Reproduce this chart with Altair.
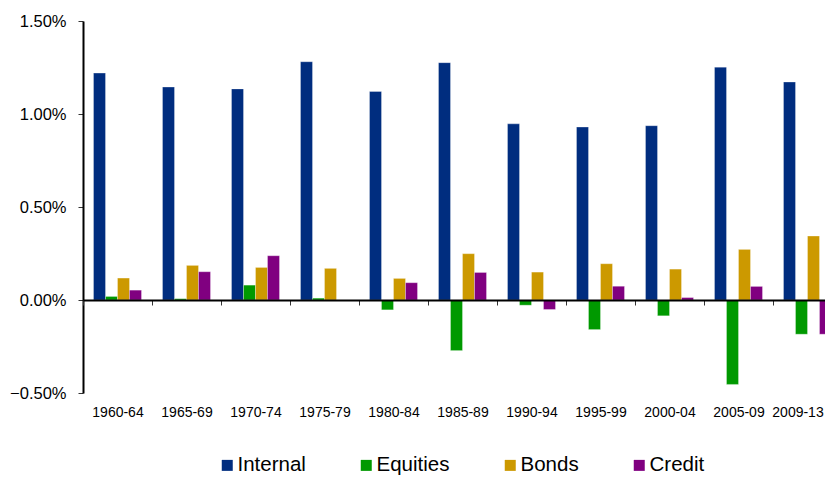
import altair as alt
import pandas as pd

periods = ["1960-64", "1965-69", "1970-74", "1975-79", "1980-84", "1985-89",
           "1990-94", "1995-99", "2000-04", "2005-09", "2009-13"]
series = ["Internal", "Equities", "Bonds", "Credit"]
colors = ["#002D7F", "#009900", "#CC9900", "#800080"]

# values in percent
internal = [1.220, 1.145, 1.135, 1.281, 1.121, 1.276, 0.947, 0.930, 0.937, 1.252, 1.172]
equities = [0.019, 0.007, 0.080, 0.010, -0.053, -0.272, -0.028, -0.159, -0.085, -0.454, -0.184]
bonds = [0.118, 0.186, 0.175, 0.170, 0.116, 0.249, 0.150, 0.195, 0.166, 0.272, 0.344]
credit = [0.053, 0.152, 0.238, 0.0, 0.093, 0.148, -0.051, 0.074, 0.013, 0.073, -0.184]

y_ticks = [-0.005, 0.0, 0.005, 0.01, 0.015]

rows = []
for i, p in enumerate(periods):
    for s, vals in zip(series, [internal, equities, bonds, credit]):
        rows.append({"period": p, "series": s, "value": vals[i] / 100})
df = pd.DataFrame(rows)

W = 759
H = 372
ymin, ymax = -0.005, 0.015
zero_offset = -H * (0 - ymin) / (ymax - ymin)
FONT = "Liberation Sans"
last_label = periods[-1]

chart = alt.Chart(df).mark_bar(stroke="white", strokeOpacity=0.3, strokeWidth=1).encode(
    x=alt.X(
        "period:N", sort=periods,
        scale=alt.Scale(paddingInner=0, paddingOuter=0),
        axis=alt.Axis(
            title=None, orient="bottom", offset=zero_offset, zindex=1,
            domainColor="black", domainWidth=2,
            tickBand="extent", tickColor="#333333", tickSize=5, tickWidth=1,
            labelAngle=0, labelFontSize=14, labelFont=FONT, labelColor="black",
            labelPadding=100,
            labelOffset={"condition": {"test": f"datum.value === '{last_label}'", "value": -10},
                         "value": 0},
        ),
    ),
    xOffset=alt.XOffset(
        "series:N", sort=series,
        scale=alt.Scale(paddingInner=0, paddingOuter=0.875),
    ),
    y=alt.Y(
        "value:Q",
        scale=alt.Scale(domain=[ymin, ymax], nice=False, zero=False),
        axis=alt.Axis(
            values=y_ticks, format=".2%", title=None, grid=False,
            domainColor="black", domainWidth=2,
            tickColor="#333333", tickSize=5, tickWidth=1,
            labelFontSize=16.5, labelFont=FONT, labelColor="black", labelPadding=12,
        ),
    ),
    color=alt.Color(
        "series:N", sort=series,
        scale=alt.Scale(domain=series, range=colors),
        legend=alt.Legend(
            title=None, orient="none", legendX=134, legendY=434,
            direction="horizontal", symbolType="square", symbolSize=121,
            symbolStrokeWidth=0, labelFontSize=20.5, labelFont=FONT,
            labelColor="black", labelOffset=0, columnPadding=50, padding=0,
        ),
    ),
).properties(
    width=W,
    height=H,
    autosize=alt.AutoSizeParams(type="none"),
    padding={"left": 75, "top": 13, "right": -17, "bottom": 82},
    background="white",
).configure_view(stroke=None)

chart.save("out.html", embed_options={"renderer": "svg", "actions": False})
